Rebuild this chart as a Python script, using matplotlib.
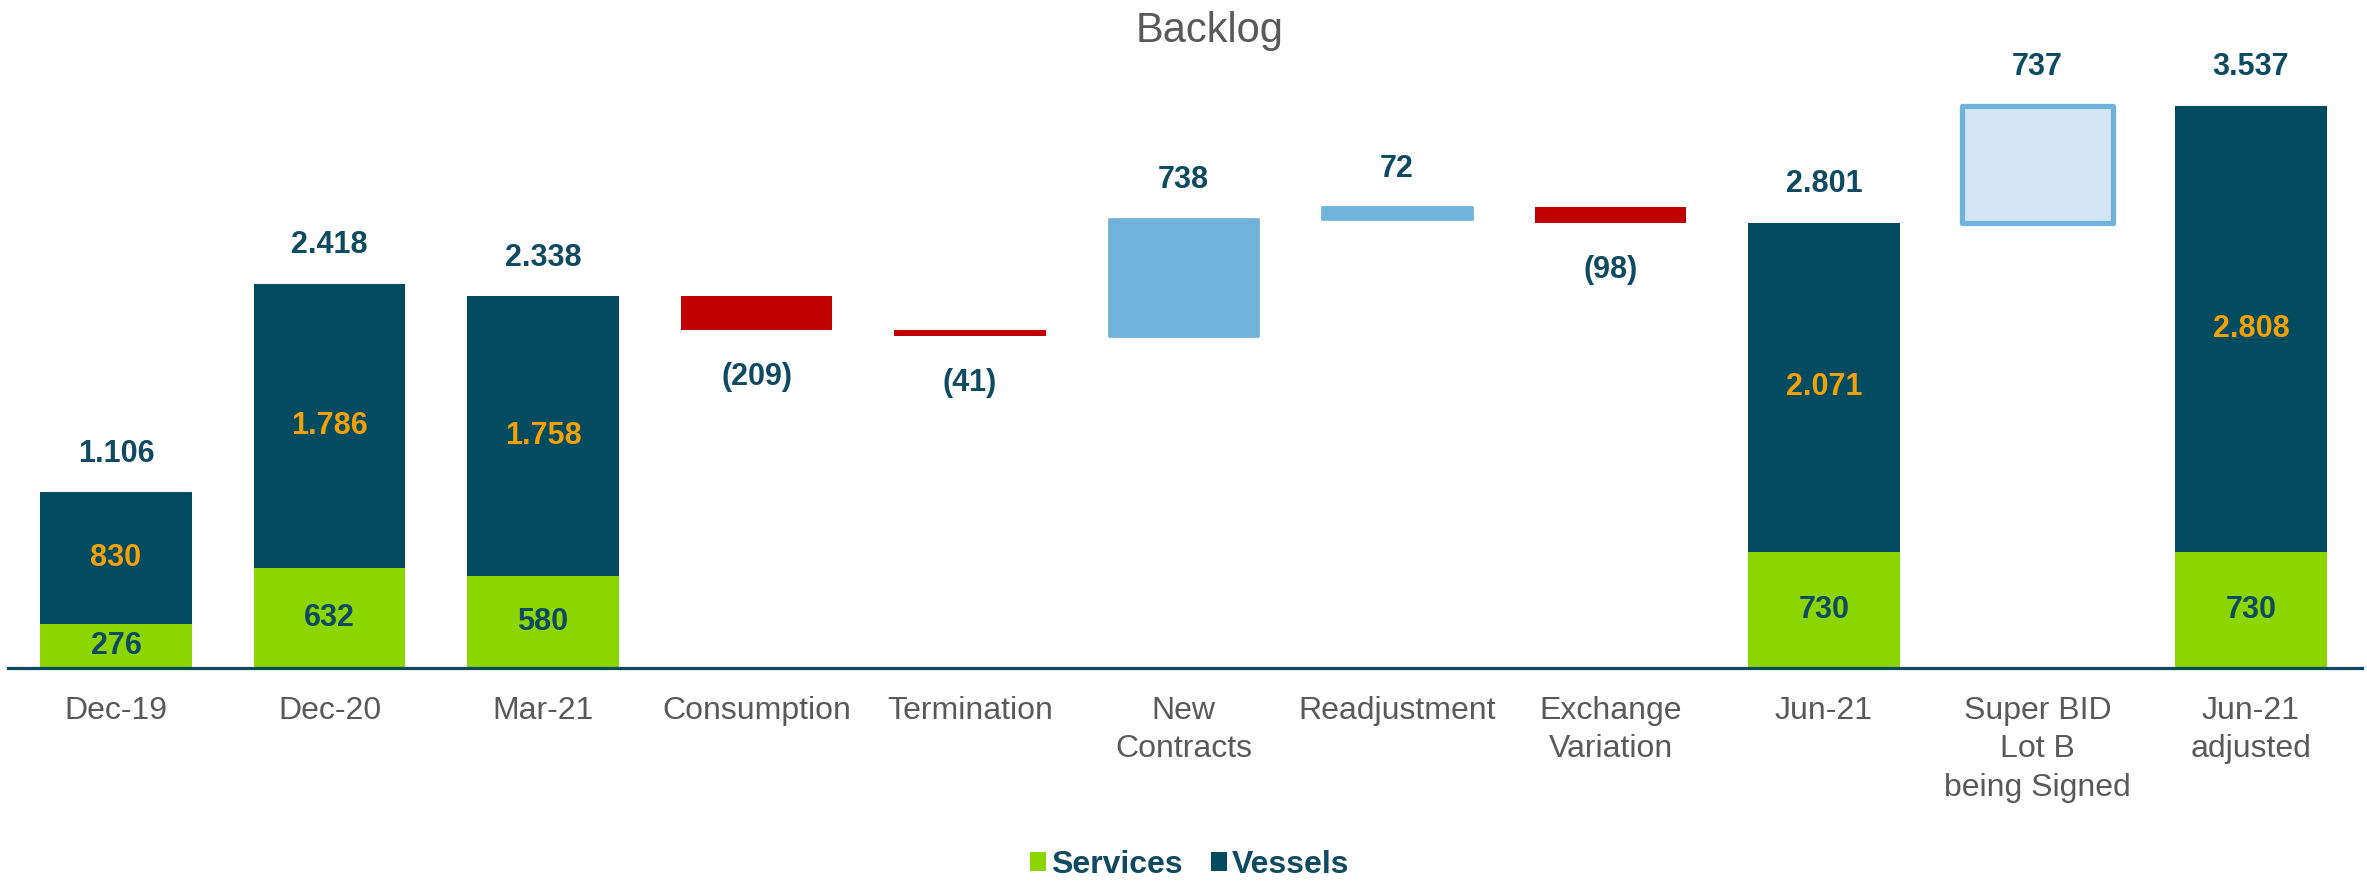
import matplotlib
matplotlib.use("Agg")
import matplotlib.pyplot as plt
from matplotlib.patches import Patch

plt.rcParams['font.family'] = ['Liberation Sans', 'DejaVu Sans']

# ---------------- data ----------------
categories = ['Dec-19', 'Dec-20', 'Mar-21', 'Consumption', 'Termination',
              'New\nContracts', 'Readjustment', 'Exchange\nVariation',
              'Jun-21', 'Super BID\nLot B\nbeing Signed', 'Jun-21\nadjusted']

total_idx = [0, 1, 2, 8, 10]
services = [276, 632, 580, 730, 730]
vessels = [830, 1786, 1758, 2071, 2808]
total_labels = [1106, 2418, 2338, 2801, 3537]

# changes after Mar-21
change_idx = [3, 4, 5, 6, 7]
changes = [-209, -41, 738, 72, -98]
superbid_idx = 9
superbid = 737

# ---------------- style ----------------
C_SERV = '#8CD600'
C_VESS = '#034B61'
C_RED = '#C00000'
C_LBLUE = '#71B2DB'
C_PALE = '#D3E6F3'
C_TXT = '#0E4A62'
C_ORNG = '#F2A007'
C_GRAY = '#595959'
W = 0.71


def fmt(v):
    return f"{v:,}".replace(',', '.')


W_PX, H_PX = 2367, 881
fig = plt.figure(figsize=(W_PX / 100, H_PX / 100), dpi=100)
ax = fig.add_axes([8 / W_PX, 0.2418, (2362 - 8) / W_PX, 0.7034])

# stacked totals
for i, s, v, t in zip(total_idx, services, vessels, total_labels):
    ax.bar(i, s, width=W, color=C_SERV, linewidth=0, zorder=2)
    ax.bar(i, v, bottom=s, width=W, color=C_VESS, linewidth=0, zorder=2)
    ax.text(i, s / 2, fmt(s), ha='center', va='center', fontsize=22,
            fontweight='bold', color=C_TXT, zorder=3)
    ax.text(i, s + v / 2, fmt(v), ha='center', va='center', fontsize=22,
            fontweight='bold', color=C_ORNG, zorder=3)
    ax.annotate(fmt(t), (i, s + v), xytext=(0, 22), textcoords='offset points',
                ha='center', va='baseline', fontsize=22, fontweight='bold',
                color=C_TXT)

# waterfall changes
level = services[2] + vessels[2]
for i, c in zip(change_idx, changes):
    if c < 0:
        bottom = level + c
        ax.bar(i, -c, bottom=bottom, width=W, color=C_RED, linewidth=0, zorder=2)
        ax.annotate(f"({fmt(-c)})", (i, bottom), xytext=(0, -23),
                    textcoords='offset points', ha='center', va='top',
                    fontsize=22, fontweight='bold', color=C_TXT)
    else:
        bottom = level
        ax.bar(i, c, bottom=bottom, width=W - 0.01, color=C_LBLUE,
               edgecolor=C_LBLUE, linewidth=2, joinstyle='round', zorder=2)
        ax.annotate(fmt(c), (i, bottom + c), xytext=(0, 22),
                    textcoords='offset points', ha='center', va='baseline',
                    fontsize=22, fontweight='bold', color=C_TXT)
    level += c

# Super BID (pending)
sb_base = services[3] + vessels[3]
ax.bar(superbid_idx, superbid, bottom=sb_base, width=W, color=C_PALE,
       edgecolor=C_LBLUE, linewidth=3.8, joinstyle='round', zorder=2)
ax.annotate(fmt(superbid), (superbid_idx, sb_base + superbid), xytext=(0, 22),
            textcoords='offset points', ha='center', va='baseline',
            fontsize=22, fontweight='bold', color=C_TXT)

# axes styling
ax.set_xlim(-0.506, 10.52)
ax.set_ylim(0, 3900)
for sp in ['top', 'right', 'left']:
    ax.spines[sp].set_visible(False)
ax.spines['bottom'].set_color(C_VESS)
ax.spines['bottom'].set_linewidth(2.3)
ax.spines['bottom'].set_zorder(4)
ax.set_yticks([])
ax.set_xticks(range(len(categories)))
ax.set_xticklabels(categories, fontsize=23, color=C_GRAY, linespacing=1.38)
ax.tick_params(axis='x', length=0, pad=20)

fig.text(1210 / W_PX, 1 - 11 / H_PX, 'Backlog', ha='center', va='top',
         fontsize=30, color=C_GRAY)

handles = [Patch(facecolor=C_SERV, label='Services'),
           Patch(facecolor=C_VESS, label='Vessels')]
leg = fig.legend(handles=handles, loc='center', ncol=2, frameon=False,
                 bbox_to_anchor=(1190 / W_PX, 16 / H_PX),
                 prop={'size': 23, 'weight': 'bold'},
                 handlelength=0.5, handleheight=0.55, handletextpad=0.15,
                 columnspacing=0.9, borderpad=0, borderaxespad=0)
for t in leg.get_texts():
    t.set_color(C_TXT)

fig.savefig('out.png', dpi=100, facecolor='white')
